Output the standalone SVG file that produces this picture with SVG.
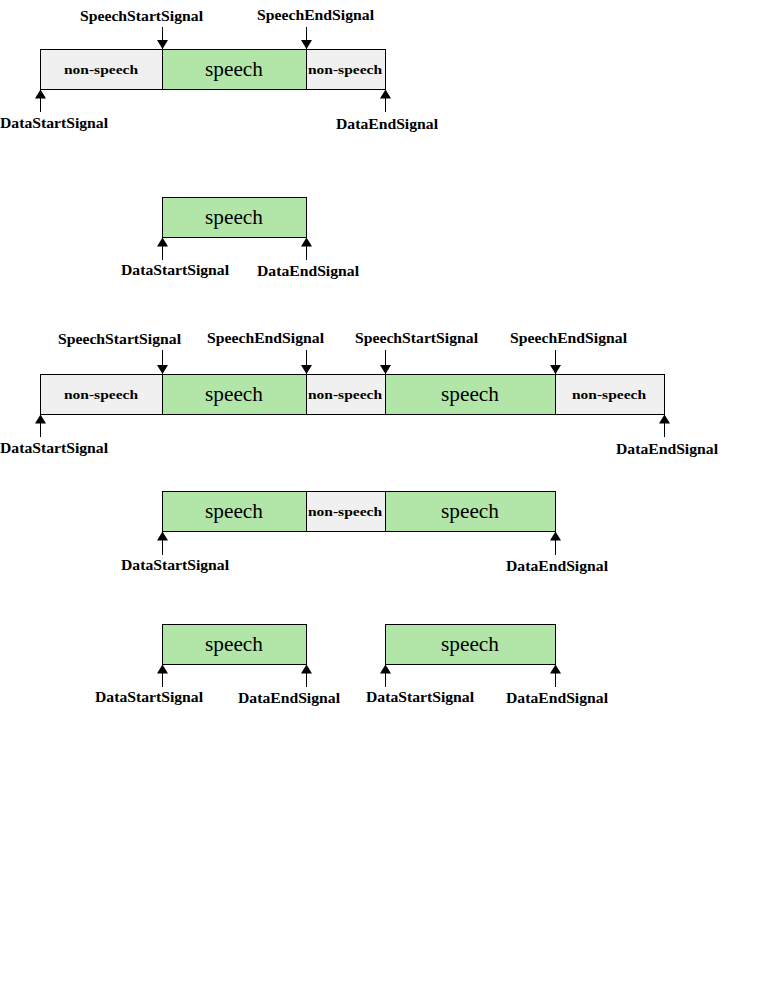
<svg xmlns="http://www.w3.org/2000/svg" width="768" height="1008" viewBox="0 0 768 1008">
<style>
.sp{fill:#b2e6a8;stroke:#000;stroke-width:1}
.ns{fill:#f0f0f0;stroke:#000;stroke-width:1}
.lbl{font-family:"Liberation Serif",serif;font-weight:bold;font-size:14px;fill:#000}
.spt{font-family:"Liberation Serif",serif;font-size:20px;fill:#000;text-anchor:middle}
.nst{font-family:"Liberation Serif",serif;font-weight:bold;font-size:13.5px;fill:#000;text-anchor:middle}
.arr{stroke:#000;stroke-width:1;fill:none;marker-end:url(#ah)}
</style>
<defs>
<marker id="ah" markerUnits="userSpaceOnUse" markerWidth="11" markerHeight="11" viewBox="0 0 9 11" refX="9" refY="5.5" orient="auto">
<path d="M0,0 L9,5.5 L0,11 z" fill="#000"/>
</marker>
</defs>
<rect width="768" height="1008" fill="#fff"/>

<!-- Row 1 -->
<g id="row1">
<rect class="ns" x="40.5" y="49.5" width="122" height="40"/>
<rect class="sp" x="162.5" y="49.5" width="144" height="40"/>
<rect class="ns" x="306.5" y="49.5" width="79" height="40"/>
<text class="nst" x="101" y="74" textLength="74" lengthAdjust="spacingAndGlyphs">non-speech</text>
<text class="spt" x="234" y="76" textLength="58" lengthAdjust="spacingAndGlyphs">speech</text>
<text class="nst" x="345" y="74" textLength="74" lengthAdjust="spacingAndGlyphs">non-speech</text>
<text class="lbl" x="80" y="21" textLength="123" lengthAdjust="spacingAndGlyphs">SpeechStartSignal</text>
<text class="lbl" x="257" y="20" textLength="117" lengthAdjust="spacingAndGlyphs">SpeechEndSignal</text>
<text class="lbl" x="0" y="128" textLength="108" lengthAdjust="spacingAndGlyphs">DataStartSignal</text>
<text class="lbl" x="336" y="129" textLength="102" lengthAdjust="spacingAndGlyphs">DataEndSignal</text>
</g>

<!-- Row 2 -->
<g id="row2">
<rect class="sp" x="162.5" y="197.5" width="144" height="40"/>
<text class="spt" x="234" y="224" textLength="58" lengthAdjust="spacingAndGlyphs">speech</text>
<text class="lbl" x="121" y="275" textLength="108" lengthAdjust="spacingAndGlyphs">DataStartSignal</text>
<text class="lbl" x="257" y="276" textLength="102" lengthAdjust="spacingAndGlyphs">DataEndSignal</text>
</g>

<!-- Row 3 -->
<g id="row3">
<rect class="ns" x="40.5" y="374.5" width="122" height="40"/>
<rect class="sp" x="162.5" y="374.5" width="144" height="40"/>
<rect class="ns" x="306.5" y="374.5" width="79" height="40"/>
<rect class="sp" x="385.5" y="374.5" width="170" height="40"/>
<rect class="ns" x="555.5" y="374.5" width="109" height="40"/>
<text class="nst" x="101" y="399" textLength="74" lengthAdjust="spacingAndGlyphs">non-speech</text>
<text class="spt" x="234" y="401" textLength="58" lengthAdjust="spacingAndGlyphs">speech</text>
<text class="nst" x="345" y="399" textLength="74" lengthAdjust="spacingAndGlyphs">non-speech</text>
<text class="spt" x="470" y="401" textLength="58" lengthAdjust="spacingAndGlyphs">speech</text>
<text class="nst" x="609" y="399" textLength="74" lengthAdjust="spacingAndGlyphs">non-speech</text>
<text class="lbl" x="58" y="344" textLength="123" lengthAdjust="spacingAndGlyphs">SpeechStartSignal</text>
<text class="lbl" x="207" y="343" textLength="117" lengthAdjust="spacingAndGlyphs">SpeechEndSignal</text>
<text class="lbl" x="355" y="343" textLength="123" lengthAdjust="spacingAndGlyphs">SpeechStartSignal</text>
<text class="lbl" x="510" y="343" textLength="117" lengthAdjust="spacingAndGlyphs">SpeechEndSignal</text>
<text class="lbl" x="0" y="453" textLength="108" lengthAdjust="spacingAndGlyphs">DataStartSignal</text>
<text class="lbl" x="616" y="454" textLength="102" lengthAdjust="spacingAndGlyphs">DataEndSignal</text>
</g>

<!-- Row 4 -->
<g id="row4">
<rect class="sp" x="162.5" y="491.5" width="144" height="40"/>
<rect class="ns" x="306.5" y="491.5" width="79" height="40"/>
<rect class="sp" x="385.5" y="491.5" width="170" height="40"/>
<text class="spt" x="234" y="518" textLength="58" lengthAdjust="spacingAndGlyphs">speech</text>
<text class="nst" x="345" y="516" textLength="74" lengthAdjust="spacingAndGlyphs">non-speech</text>
<text class="spt" x="470" y="518" textLength="58" lengthAdjust="spacingAndGlyphs">speech</text>
<text class="lbl" x="121" y="570" textLength="108" lengthAdjust="spacingAndGlyphs">DataStartSignal</text>
<text class="lbl" x="506" y="571" textLength="102" lengthAdjust="spacingAndGlyphs">DataEndSignal</text>
</g>

<!-- Row 5 -->
<g id="row5">
<rect class="sp" x="162.5" y="624.5" width="144" height="40"/>
<rect class="sp" x="385.5" y="624.5" width="170" height="40"/>
<text class="spt" x="234" y="651" textLength="58" lengthAdjust="spacingAndGlyphs">speech</text>
<text class="spt" x="470" y="651" textLength="58" lengthAdjust="spacingAndGlyphs">speech</text>
<text class="lbl" x="95" y="702" textLength="108" lengthAdjust="spacingAndGlyphs">DataStartSignal</text>
<text class="lbl" x="238" y="703" textLength="102" lengthAdjust="spacingAndGlyphs">DataEndSignal</text>
<text class="lbl" x="366" y="702" textLength="108" lengthAdjust="spacingAndGlyphs">DataStartSignal</text>
<text class="lbl" x="506" y="703" textLength="102" lengthAdjust="spacingAndGlyphs">DataEndSignal</text>
</g>

<g id="connectors">
<!-- row 1 -->
<path class="arr" d="M162.5,27 V49"/>
<path class="arr" d="M306.5,27 V49"/>
<path class="arr" d="M40.5,112 V89.5"/>
<path class="arr" d="M385.5,112 V89.5"/>
<!-- row 2 -->
<path class="arr" d="M162.5,260 V237.5"/>
<path class="arr" d="M306.5,260 V237.5"/>
<!-- row 3 -->
<path class="arr" d="M162.5,350 V374"/>
<path class="arr" d="M306.5,350 V374"/>
<path class="arr" d="M385.5,350 V374"/>
<path class="arr" d="M555.5,350 V374"/>
<path class="arr" d="M40.5,437 V414.5"/>
<path class="arr" d="M664.5,437 V414.5"/>
<!-- row 4 -->
<path class="arr" d="M162.5,555 V531.5"/>
<path class="arr" d="M555.5,555 V531.5"/>
<!-- row 5 -->
<path class="arr" d="M162.5,687 V664.5"/>
<path class="arr" d="M306.5,687 V664.5"/>
<path class="arr" d="M385.5,687 V664.5"/>
<path class="arr" d="M555.5,687 V664.5"/>
</g>
</svg>
